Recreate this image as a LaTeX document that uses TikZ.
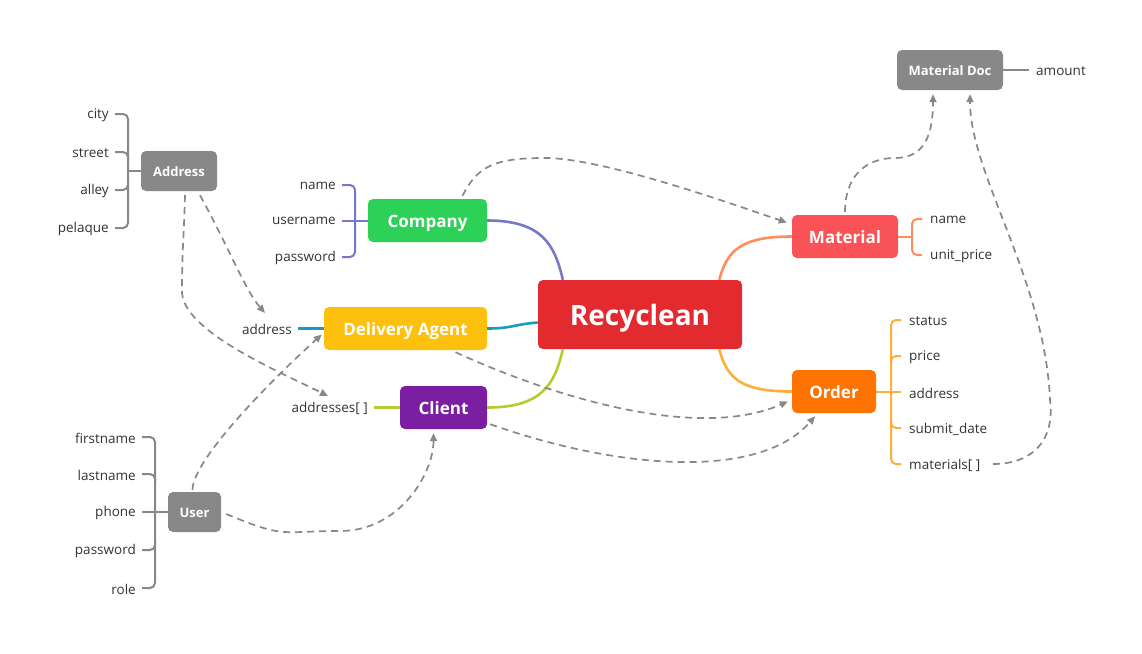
\documentclass[tikz,border=0pt]{standalone}
\usepackage{fontspec}
\setmainfont{Open Sans}
\usetikzlibrary{arrows.meta,calc}
\definecolor{rcred}{HTML}{E32A2F}
\definecolor{cogreen}{HTML}{2DD158}
\definecolor{dayel}{HTML}{FDC00C}
\definecolor{clpur}{HTML}{7B1FA2}
\definecolor{mared}{HTML}{F95357}
\definecolor{ororg}{HTML}{FF7300}
\definecolor{gnode}{HTML}{888888}
\definecolor{lpur}{HTML}{7777C9}
\definecolor{lteal}{HTML}{199BC1}
\definecolor{lyg}{HTML}{B6CB2E}
\definecolor{lsal}{HTML}{FF8C5C}
\definecolor{lorg}{HTML}{FFAD3B}
\definecolor{txt}{HTML}{333333}
\begin{document}
\begin{tikzpicture}[x=1pt,y=-1pt,
  box/.style={rounded corners=5pt,inner sep=0pt,text=white,font=\fontsize{17}{20}\selectfont\bfseries,minimum height=43pt,text height=15pt,text depth=1.5pt},
  gbox/.style={rounded corners=5pt,inner sep=0pt,fill=gnode,text=white,font=\fontsize{13}{16}\selectfont\bfseries,minimum height=40pt,text height=11.5pt,text depth=1pt},
  lbl/.style={inner sep=0pt,text=txt,font=\fontsize{13.5}{16}\selectfont,yshift=-1pt},
  br/.style={line width=2pt,rounded corners=5pt},
  link/.style={line width=2.6pt},
  dl/.style={draw=gnode,line width=1.7pt,dash pattern=on 7pt off 5pt,-{Triangle[length=8pt,width=7pt]}}
]
\useasboundingbox (0,0) rectangle (1142,653);
% main nodes
\node[box,fill=rcred,minimum width=204pt,minimum height=69pt,font=\fontsize{28}{32}\selectfont\bfseries,text height=25pt,text depth=2.5pt] (rc) at (640,314.5) {Recyclean};
\node[box,fill=cogreen,minimum width=119pt] (co) at (427.5,220.5) {Company};
\node[box,fill=dayel,minimum width=163pt] (da) at (405.5,328.5) {Delivery Agent};
\node[box,fill=clpur,minimum width=87pt] (cl) at (443.5,407.5) {Client};
\node[box,fill=mared,minimum width=106pt] (ma) at (845,236.5) {Material};
\node[box,fill=ororg,minimum width=84pt] (or) at (834,391.5) {Order};
\node[gbox,minimum width=76pt] (ad) at (179,171) {Address};
\node[gbox,minimum width=53pt] (us) at (194.5,512) {User};
\node[gbox,minimum width=106pt] (md) at (950,70) {Material Doc};
% links to center
\draw[link,lpur] (co.east) .. controls +(55,0) and +(-8,-35) .. ($(rc.north west)+(25,0)$);
\draw[link,lteal] (da.east) .. controls +(25,0) and +(-25,2) .. ($(rc.west)+(0,8)$);
\draw[link,lyg] (cl.east) .. controls +(55,0) and +(-8,35) .. ($(rc.south west)+(25,0)$);
\draw[link,lsal] (ma.west) .. controls +(-50,0) and +(8,-30) .. ($(rc.north east)+(-23,0)$);
\draw[link,lorg] (or.west) .. controls +(-50,0) and +(8,30) .. ($(rc.south east)+(-23,0)$);
% Company attributes
\node[lbl,anchor=east] (cn) at (336,185) {name};
\node[lbl,anchor=east] (cu) at (336,220) {username};
\node[lbl,anchor=east] (cp) at (336,257) {password};
\draw[br,lpur] (342,185) -- (355,185) -- (355,257) -- (342,257);
\draw[br,lpur] (342,220.5) -- (co.west);
% Address attributes
\node[lbl,anchor=east] (a1) at (109,114) {city};
\node[lbl,anchor=east] (a2) at (109,152) {street};
\node[lbl,anchor=east] (a3) at (109,190) {alley};
\node[lbl,anchor=east] (a4) at (109,228) {pelaque};
\draw[br,gnode] (115,114) -- (128,114) -- (128,228) -- (115,228);
\draw[br,gnode] (115,152) -- (128,152) -- (128,160);
\draw[br,gnode] (115,190) -- (128,190) -- (128,182);
\draw[line width=2pt,gnode] (128,171) -- (ad.west);
% User attributes
\node[lbl,anchor=east] (u1) at (136,437) {firstname};
\node[lbl,anchor=east] (u2) at (136,474) {lastname};
\node[lbl,anchor=east] (u3) at (136,512) {phone};
\node[lbl,anchor=east] (u4) at (136,550) {password};
\node[lbl,anchor=east] (u5) at (136,588) {role};
\draw[br,gnode] (142,437) -- (155,437) -- (155,588) -- (142,588);
\draw[br,gnode] (142,474) -- (155,474) -- (155,482);
\draw[br,gnode] (142,550) -- (155,550) -- (155,542);
\draw[line width=2pt,gnode] (142,512) -- (us.west);
% Material attributes
\node[lbl,anchor=west] (m1) at (930,219) {name};
\node[lbl,anchor=west] (m2) at (930,255) {unit\_price};
\draw[br,lsal] (922,219) -- (912,219) -- (912,255) -- (922,255);
\draw[line width=2pt,lsal] (ma.east) -- (912,236.5);
% Order attributes
\node[lbl,anchor=west] (o1) at (909,320) {status};
\node[lbl,anchor=west] (o2) at (909,356) {price};
\node[lbl,anchor=west] (o3) at (909,392) {address};
\node[lbl,anchor=west] (o4) at (909,428) {submit\_date};
\node[lbl,anchor=west] (o5) at (909,464) {materials[ ]};
\draw[br,lorg] (901,320) -- (891,320) -- (891,464) -- (901,464);
\draw[br,lorg] (901,356) -- (891,356) -- (891,364);
\draw[br,lorg] (901,428) -- (891,428) -- (891,420);
\draw[line width=2pt,lorg] (or.east) -- (901,391.5);
% Material Doc attribute
\node[lbl,anchor=west] (mda) at (1036,70) {amount};
\draw[line width=2pt,gnode] (md.east) -- (1029,70);
% Delivery agent / client attributes
\node[lbl,anchor=east] (dad) at (292,328) {address};
\draw[link,lteal,line width=2.2pt] (298,328.5) -- (da.west);
\node[lbl,anchor=east] (cad) at (368,407) {addresses[ ]};
\draw[link,lyg,line width=2.2pt] (374,407.5) -- (cl.west);
% dashed references
\draw[dl] ($(co.north)+(35,-3)$) .. controls +(15,-30) and +(-50,0) .. (545,158) .. controls +(60,0) and +(-45,-15) .. ($(ma.west)+(-5,-14)$);
\draw[dl] ($(ma.north)+(0,-3)$) .. controls +(0,-35) and +(-30,0) .. (895,158) .. controls +(30,0) and +(0,40) .. ($(md.south)+(-17,4)$);
\draw[dl] (993,464) .. controls +(40,0) and +(5,40) .. (1050,400) .. controls +(-5,-120) and +(0,80) .. ($(md.south)+(20,4)$);
\draw[dl] ($(ad.south)+(6,4)$) .. controls +(-1,40) and +(0,-40) .. (182,290) .. controls +(-2,40) and +(-50,-25) .. (328,396);
\draw[dl] ($(ad.south)+(21,4)$) .. controls (230,250) and (245,290) .. (265,313);
\draw[dl] ($(us.north)+(-2,-2)$) .. controls +(0,-30) and +(-50,45) .. ($(da.west)+(-2,6)$);
\draw[dl] ($(us.east)+(5,2)$) .. controls +(60,25) and +(-60,0) .. (340,531) .. controls +(60,0) and +(0,40) .. ($(cl.south)+(-10,4)$);
\draw[dl] ($(da.south)+(50,2)$) .. controls (560,400) and (700,440) .. ($(or.west)+(-4,10)$);
\draw[dl] ($(cl.south east)+(3,-5)$) .. controls (620,470) and (760,480) .. ($(or.south)+(-19,3)$);
\end{tikzpicture}
\end{document}
